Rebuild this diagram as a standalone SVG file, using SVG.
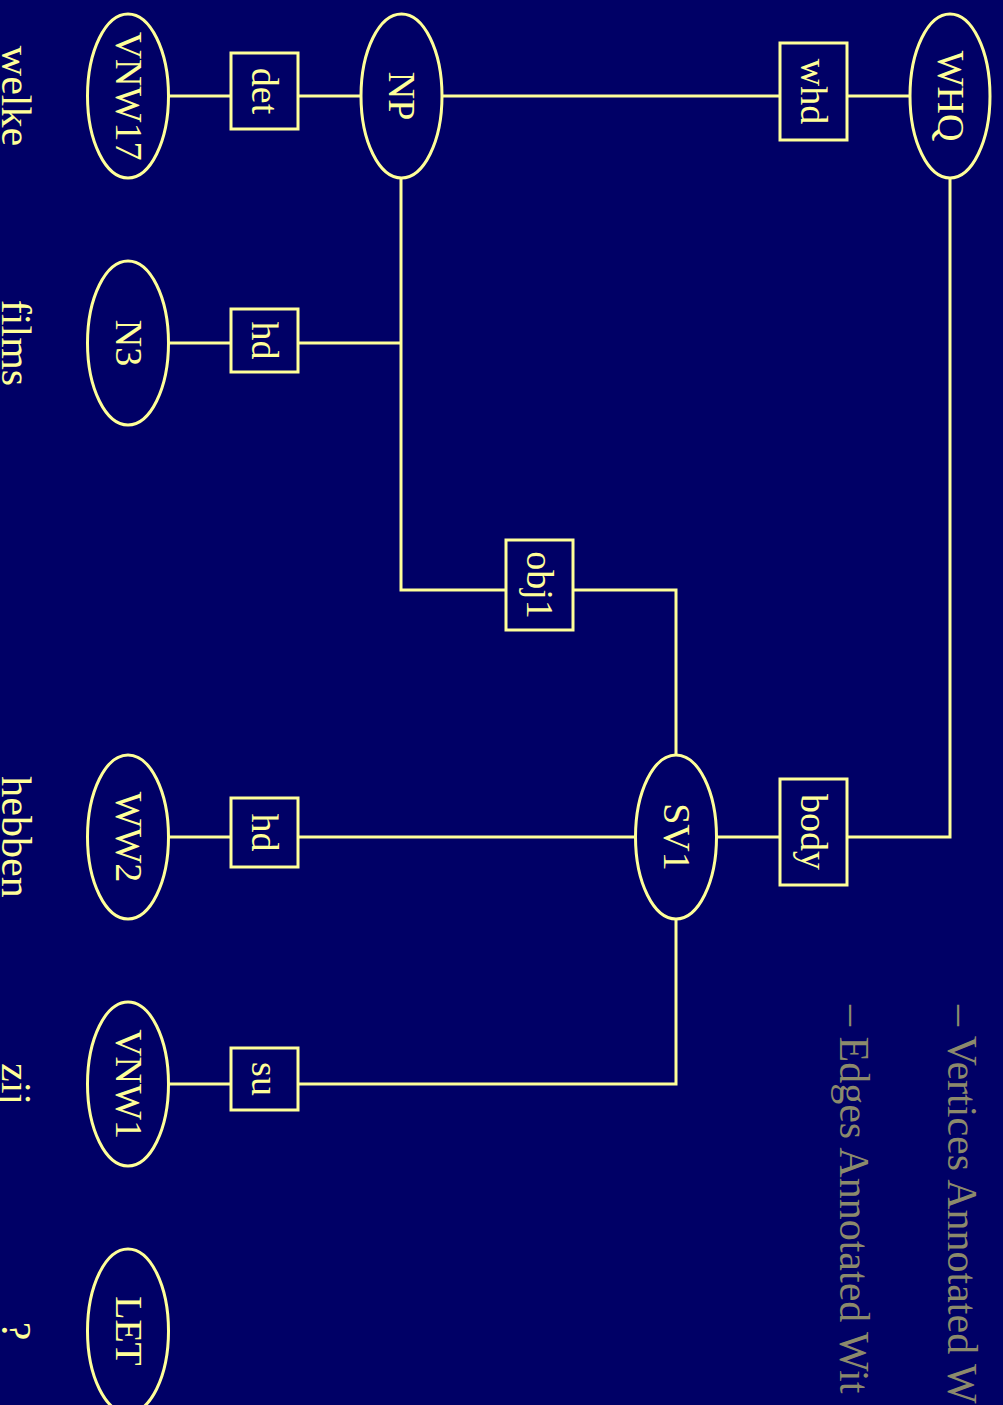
<svg xmlns="http://www.w3.org/2000/svg" width="1003" height="1405" viewBox="0 0 1003 1405">
<style>
.n{fill:none;stroke:#ffff99;stroke-width:3}
.e{fill:none;stroke:#ffff99;stroke-width:3}
.t{font-family:"Liberation Serif","DejaVu Serif",serif;font-size:38px;fill:#ffff99;text-anchor:middle}
.w{font-family:"Liberation Serif","DejaVu Serif",serif;font-size:42px;fill:#ffff99;text-anchor:middle}
.l{font-family:"Liberation Serif","DejaVu Serif",serif;font-size:42px;fill:#8c8a6c}
</style>
<rect width="1003" height="1405" fill="#000066"/>
<g id="connectors">
<path class="e" d="M168,96H231M298,96H361"/>
<path class="e" d="M442,96H780M847,96H910"/>
<path class="e" d="M401,178V590H506"/>
<path class="e" d="M401,343H298M231,343H168"/>
<path class="e" d="M573,590H676V755"/>
<path class="e" d="M635,837H298M231,837H168"/>
<path class="e" d="M717,837H780M847,837H950V178"/>
<path class="e" d="M676,919V1084H298M231,1084H168"/>
</g>
<g id="WHQ"><ellipse class="n" cx="950" cy="96" rx="40" ry="82"/><text class="t" transform="translate(950,96) rotate(90)" y="12.5">WHQ</text></g>
<g id="whd"><rect class="n" x="780" y="43" width="67" height="97"/><text class="t" transform="translate(813.5,91.5) rotate(90)" y="13">whd</text></g>
<g id="NP"><ellipse class="n" cx="401.5" cy="96" rx="40.5" ry="82"/><text class="t" transform="translate(401.5,96) rotate(90)" y="12.5">NP</text></g>
<g id="det"><rect class="n" x="231" y="53" width="67" height="76"/><text class="t" transform="translate(264.5,91) rotate(90)" y="13">det</text></g>
<g id="VNW17"><ellipse class="n" cx="128" cy="96" rx="40.5" ry="82"/><text class="t" transform="translate(128,96) rotate(90)" y="12.5">VNW17</text></g>
<g id="hd1"><rect class="n" x="231" y="309" width="67" height="63"/><text class="t" transform="translate(264.5,340.5) rotate(90)" y="13">hd</text></g>
<g id="N3"><ellipse class="n" cx="128" cy="343" rx="40.5" ry="82"/><text class="t" transform="translate(128,343) rotate(90)" y="12.5">N3</text></g>
<g id="obj1"><rect class="n" x="506" y="540" width="67" height="90"/><text class="t" transform="translate(539.5,585) rotate(90)" y="13">obj1</text></g>
<g id="SV1"><ellipse class="n" cx="676" cy="837" rx="40.5" ry="82"/><text class="t" transform="translate(676,837) rotate(90)" y="12.5">SV1</text></g>
<g id="body"><rect class="n" x="780" y="779" width="67" height="106"/><text class="t" transform="translate(813.5,832) rotate(90)" y="13">body</text></g>
<g id="hd2"><rect class="n" x="231" y="798" width="67" height="69"/><text class="t" transform="translate(264.5,832.5) rotate(90)" y="13">hd</text></g>
<g id="WW2"><ellipse class="n" cx="128" cy="837" rx="40.5" ry="82"/><text class="t" transform="translate(128,837) rotate(90)" y="12.5">WW2</text></g>
<g id="su"><rect class="n" x="231" y="1048" width="67" height="62"/><text class="t" transform="translate(264.5,1079) rotate(90)" y="13">su</text></g>
<g id="VNW1"><ellipse class="n" cx="128" cy="1084" rx="40.5" ry="82"/><text class="t" transform="translate(128,1084) rotate(90)" y="12.5">VNW1</text></g>
<g id="LET"><ellipse class="n" cx="128" cy="1331" rx="40.5" ry="82"/><text class="t" transform="translate(128,1331) rotate(90)" y="12.5">LET</text></g>
<g id="words">
<text class="w" transform="translate(2,96) rotate(90)">welke</text>
<text class="w" transform="translate(2,343) rotate(90)">films</text>
<text class="w" transform="translate(2,837) rotate(90)">hebben</text>
<text class="w" transform="translate(2,1084) rotate(90)">zij</text>
<text class="w" transform="translate(2,1331) rotate(90)">?</text>
</g>
<g id="legend">
<text class="l" transform="translate(948,1005) rotate(90)">– Vertices Annotated W</text>
<text class="l" transform="translate(840,1005) rotate(90)">– Edges Annotated Wit</text>
</g>
</svg>
